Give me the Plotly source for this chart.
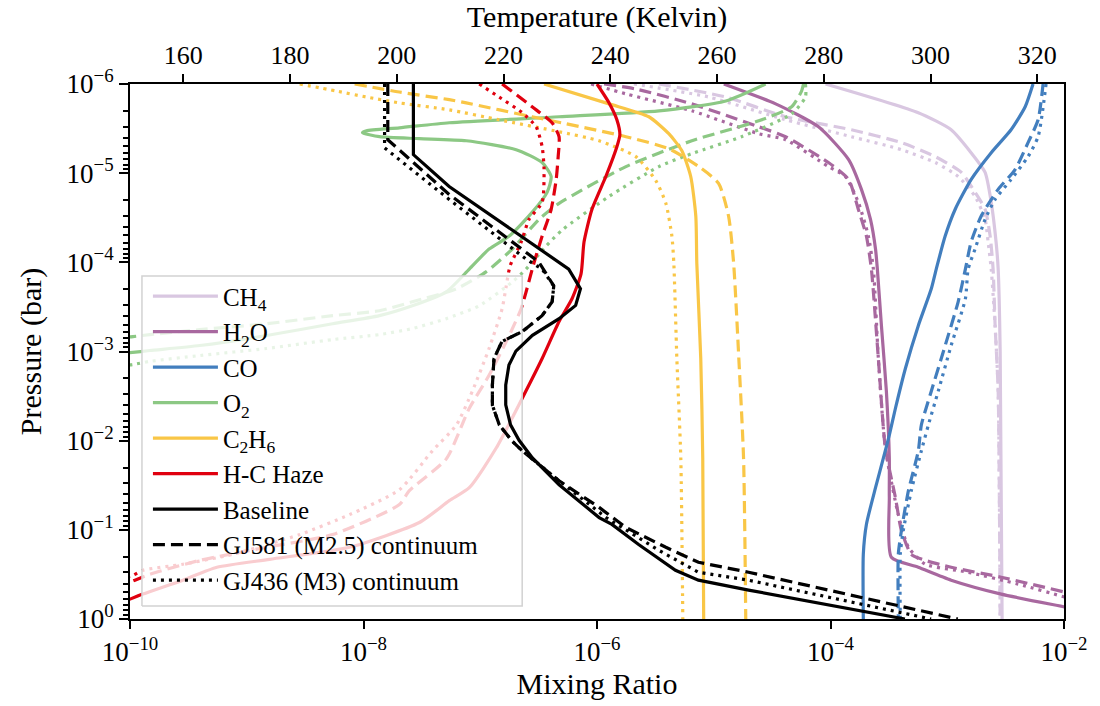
import plotly.graph_objects as go

# ---------------- data (pressure in bar, mixing ratio, temperature in K) ----------------
CH4_BASE_P = [1e-6, 2.1e-6, 3.26e-6, 5.89e-6, 9.8e-6, 2.12e-5, 5.93e-5, 1.19e-4, 1e-3, 1.0]
CH4_BASE_X = [9.06e-5, 5.65e-4, 1.08e-3, 1.6e-3, 2.11e-3, 2.38e-3, 2.62e-3, 2.73e-3, 2.84e-3, 2.95e-3]
CH4_GJ581_P = [1e-6, 1.4e-6, 2.33e-6, 3.26e-6, 4.55e-6, 6.52e-6, 9.8e-6, 1.64e-5, 2.54e-5, 5.08e-5, 1.19e-4, 5.13e-4, 2.79e-3, 1.0]
CH4_GJ581_X = [3.39e-6, 1.27e-5, 4.12e-5, 1.51e-4, 4.05e-4, 7.89e-4, 1.32e-3, 1.73e-3, 2.11e-3, 2.33e-3, 2.47e-3, 2.57e-3, 2.73e-3, 2.84e-3]
CH4_GJ436_P = [1e-6, 1.4e-6, 2.52e-6, 3.9e-6, 5.45e-6, 7.6e-6, 1.09e-5, 1.82e-5, 3.29e-5, 5.93e-5, 1.19e-4, 5.13e-4, 2.79e-3, 1.0]
CH4_GJ436_X = [2.07e-6, 9.06e-6, 4.12e-5, 1.51e-4, 4.05e-4, 7.89e-4, 1.24e-3, 1.73e-3, 2.11e-3, 2.24e-3, 2.38e-3, 2.57e-3, 2.73e-3, 2.84e-3]

H2O_BASE_P = [1e-6, 1.67e-6, 3.02e-6, 7.05e-6, 1.52e-5, 3.29e-5, 7.1e-5, 1.19e-4, 5.13e-4, 2.79e-3, 1.56e-2, 4.36e-2, 0.203, 0.263, 0.367, 0.526, 0.734, 0.857]
H2O_BASE_X = [1.22e-5, 3.39e-5, 7.89e-5, 1.43e-4, 1.84e-4, 2.2e-4, 2.43e-4, 2.52e-4, 2.73e-4, 3.01e-4, 3.19e-4, 3.19e-4, 3.32e-4, 5.65e-4, 1.08e-3, 2.9e-3, 1.02e-2, 1.84e-2]
H2O_GJ581_P = [1e-6, 1.14e-6, 1.67e-6, 3.02e-6, 3.9e-6, 7.6e-6, 1.18e-5, 2.54e-5, 5.08e-5, 1.19e-4, 1.2e-3, 1.21e-2, 4.36e-2, 0.102, 0.188, 0.22, 0.263, 0.34, 0.5, 0.598]
H2O_GJ581_X = [1.15e-6, 2.15e-6, 6.49e-6, 2.43e-5, 4.12e-5, 9.6e-5, 1.43e-4, 1.73e-4, 2.03e-4, 2.24e-4, 2.57e-4, 2.95e-4, 3.6e-4, 4.05e-4, 4.92e-4, 6.49e-4, 1.08e-3, 2.9e-3, 1.02e-2, 1.84e-2]
H2O_GJ436_P = [1e-6, 1.29e-6, 2.0e-6, 3.61e-6, 4.22e-6, 8.44e-6, 1.09e-5, 2.12e-5, 5.08e-5, 1.19e-4, 1.2e-3, 1.21e-2, 6.75e-2, 0.157, 0.243, 0.299, 0.406, 0.568, 0.70]
H2O_GJ436_X = [8.9e-7, 1.77e-6, 6.49e-6, 2.43e-5, 4.12e-5, 9.6e-5, 1.34e-4, 1.73e-4, 2.11e-4, 2.33e-4, 2.57e-4, 2.95e-4, 3.81e-4, 4.65e-4, 6.49e-4, 1.51e-3, 4.05e-3, 1.02e-2, 1.84e-2]

CO_BASE_P = [1e-6, 1.8e-6, 3.26e-6, 5.89e-6, 1.18e-5, 2.54e-5, 5.08e-5, 1.19e-4, 1.98e-4, 5.13e-4, 1.55e-3, 4.33e-3, 8.65e-3, 1.56e-2, 3.37e-2, 8.7e-2, 0.188, 1.0]
CO_BASE_X = [5.43e-3, 4.65e-3, 3.52e-3, 2.38e-3, 1.6e-3, 1.17e-3, 9.6e-4, 8.05e-4, 7.3e-4, 5.65e-4, 4.38e-4, 3.6e-4, 3.19e-4, 2.84e-4, 2.43e-4, 2.03e-4, 1.91e-4, 1.91e-4]
CO_GJ581_P = [1e-6, 2.52e-6, 4.55e-6, 9.1e-6, 1.52e-5, 3.04e-5, 5.93e-5, 1.19e-4, 2.77e-4, 8.57e-4, 2.79e-3, 6.68e-3, 1.3e-2, 3.64e-2, 0.102, 0.188, 1.0]
CO_GJ581_X = [6.62e-3, 6.0e-3, 4.92e-3, 3.81e-3, 2.73e-3, 1.95e-3, 1.6e-3, 1.43e-3, 1.24e-3, 9.6e-4, 7.3e-4, 6.0e-4, 5.65e-4, 4.65e-4, 4.05e-4, 3.81e-4, 3.81e-4]
CO_GJ436_P = [1e-6, 3.9e-6, 6.52e-6, 1.18e-5, 1.97e-5, 3.29e-5, 7.1e-5, 1.19e-4, 2.56e-4, 8.57e-4, 2.79e-3, 6.68e-3, 1.3e-2, 3.64e-2, 0.102, 0.188, 1.0]
CO_GJ436_X = [7.02e-3, 6.0e-3, 4.92e-3, 3.52e-3, 2.57e-3, 2.11e-3, 1.73e-3, 1.51e-3, 1.43e-3, 1.08e-3, 8.37e-4, 6.89e-4, 6.0e-4, 4.92e-4, 4.2e-4, 3.96e-4, 3.96e-4]

O2_BASE_P = [1e-6, 1.55e-6, 2.0e-6, 2.33e-6, 2.72e-6, 3.1e-6, 3.34e-6, 3.52e-6, 3.9e-6, 4.1e-6, 4.33e-6, 5.45e-6, 7.6e-6, 1.09e-5, 1.64e-5, 2.75e-5, 5.08e-5, 7.1e-5, 1.19e-4, 2.14e-4, 3.07e-4, 3.96e-4, 4.88e-4, 6.62e-4, 8.57e-4, 9.75e-4, 1.03e-3, 1.08e-3]
O2_BASE_X = [2.78e-5, 1.27e-5, 3.39e-6, 4.73e-7, 5.43e-8, 2.03e-8, 1.06e-8, 9.8e-9, 1.37e-8, 3.01e-8, 7.59e-8, 2.03e-7, 3.39e-7, 4.05e-7, 3.74e-7, 2.78e-7, 1.77e-7, 1.19e-7, 8.06e-8, 5.12e-8, 2.62e-8, 1.37e-8, 5.43e-9, 1.48e-9, 3.96e-10, 1.48e-10, 1e-10, 6.7e-11]
O2_GJ581_P = [1e-6, 1.2e-6, 1.8e-6, 2.59e-6, 4.33e-6, 8.44e-6, 2.18e-5, 3.29e-5, 7.1e-5, 1.28e-4, 1.98e-4, 2.77e-4, 3.49e-4, 3.96e-4, 4.88e-4, 5.69e-4, 6.46e-4, 6.81e-4, 7.17e-4]
O2_GJ581_X = [5.87e-5, 5.65e-5, 4.65e-5, 2.43e-5, 6.49e-6, 1.77e-6, 4.73e-7, 3.19e-7, 1.88e-7, 1.12e-7, 6.24e-8, 2.62e-8, 1.37e-8, 5.43e-9, 1.48e-9, 3.96e-10, 1.48e-10, 1.06e-10, 6.7e-11]
O2_GJ436_P = [1e-6, 1.4e-6, 2.16e-6, 3.9e-6, 6.04e-6, 8.44e-6, 1.82e-5, 4.35e-5, 6.58e-5, 1.19e-4, 1.66e-4, 3.07e-4, 4.28e-4, 5.53e-4, 6.46e-4, 7.35e-4, 9.25e-4, 1.11e-3, 1.29e-3, 1.4e-3, 1.51e-3]
O2_GJ436_X = [6.1e-5, 6.1e-5, 4.65e-5, 1.73e-5, 6.49e-6, 3.39e-6, 1.27e-6, 5.02e-7, 3.66e-7, 2.47e-7, 1.88e-7, 9.8e-8, 5.12e-8, 2.62e-8, 1.37e-8, 5.43e-9, 1.48e-9, 3.96e-10, 1.48e-10, 1.06e-10, 6.7e-11]

C2H6_BASE_P = [1e-6, 1.67e-6, 2.33e-6, 3.61e-6, 5.58e-6, 1.09e-5, 3.04e-5, 1.02e-4, 1.2e-3, 1.56e-2, 1.0]
C2H6_BASE_X = [3.52e-7, 1.27e-6, 2.78e-6, 4.12e-6, 5.32e-6, 6.35e-6, 7.02e-6, 7.16e-6, 7.74e-6, 8.05e-6, 8.2e-6]
C2H6_GJ581_P = [1e-6, 1.23e-6, 1.5e-6, 1.63e-6, 2.33e-6, 2.79e-6, 3.9e-6, 5.31e-6, 8.44e-6, 1.3e-5, 3.04e-5, 1.02e-4, 1.2e-3, 1.56e-2, 1.0]
C2H6_GJ581_X = [8.4e-9, 2.03e-8, 5.43e-8, 7.59e-8, 2.78e-7, 5.43e-7, 1.77e-6, 4.12e-6, 7.45e-6, 1.1e-5, 1.34e-5, 1.48e-5, 1.64e-5, 1.8e-5, 1.88e-5]
C2H6_GJ436_P = [1e-6, 1.2e-6, 1.4e-6, 1.63e-6, 1.95e-6, 2.52e-6, 3.43e-6, 4.33e-6, 6.52e-6, 1.21e-5, 2.18e-5, 5.08e-5, 1.02e-4, 1.2e-3, 1.56e-2, 1.0]
C2H6_GJ436_X = [2.84e-9, 5.87e-9, 1.06e-8, 2.03e-8, 5.43e-8, 1.45e-7, 4.73e-7, 1.04e-6, 2.15e-6, 3.19e-6, 3.89e-6, 4.38e-6, 4.55e-6, 4.83e-6, 5.22e-6, 5.43e-6]

HAZE_BASE_P = [1e-6, 1.63e-6, 2.52e-6, 3.71e-6, 5.05e-6, 1.09e-5, 2.54e-5, 5.93e-5, 1.35e-4, 2.56e-4, 4.62e-4, 1.2e-3, 3.34e-3, 1.21e-2, 3.37e-2, 4.71e-2, 8.28e-2, 0.157, 0.214, 0.263, 0.367, 0.526, 0.663]
HAZE_BASE_X = [1.0e-6, 1.27e-6, 1.48e-6, 1.57e-6, 1.48e-6, 1.19e-6, 9.06e-7, 7.74e-7, 7.3e-7, 6.11e-7, 4.73e-7, 3.39e-7, 2.29e-7, 1.37e-7, 8.06e-8, 5.43e-8, 3.01e-8, 7.59e-9, 1.57e-9, 5.55e-10, 2.84e-10, 1.29e-10, 8.2e-11]
HAZE_GJ581_P = [1e-6, 1.8e-6, 2.72e-6, 3.9e-6, 6.52e-6, 1.18e-5, 2.54e-5, 5.08e-5, 9.9e-5, 2.14e-4, 3.31e-4, 6.62e-4, 1.85e-3, 4.33e-3, 1.6e-2, 3.64e-2, 5.21e-2, 0.113, 0.157, 0.22, 0.315, 0.386, 0.44]
HAZE_GJ581_X = [1.54e-7, 2.78e-7, 4.12e-7, 4.73e-7, 4.65e-7, 4.47e-7, 4.05e-7, 3.39e-7, 2.9e-7, 2.47e-7, 2.24e-7, 1.77e-7, 1.19e-7, 8.06e-8, 5.12e-8, 2.47e-8, 2.03e-8, 5.43e-9, 1.48e-9, 3.96e-10, 1.48e-10, 1e-10, 7.4e-11]
HAZE_GJ436_P = [1e-6, 1.4e-6, 2.1e-6, 3.02e-6, 5.05e-6, 9.1e-6, 2.12e-5, 3.29e-5, 5.93e-5, 1.1e-4, 1.84e-4, 3.31e-4, 9.25e-4, 2.79e-3, 6.68e-3, 1.3e-2, 3.55e-2, 6.75e-2, 0.113, 0.188, 0.243, 0.284, 0.323, 0.367]
HAZE_GJ436_X = [9.8e-8, 1.45e-7, 2.29e-7, 3.01e-7, 3.39e-7, 3.52e-7, 3.39e-7, 2.62e-7, 2.24e-7, 1.8e-7, 1.67e-7, 1.54e-7, 1.19e-7, 8.55e-8, 6.24e-8, 3.89e-8, 2.03e-8, 7.59e-9, 2.84e-9, 7.59e-10, 2.84e-10, 1.29e-10, 1.06e-10, 7.4e-11]

T_BASE_P = [1e-6, 6.2e-6, 1.41e-5, 1.19e-4, 1.98e-4, 3.04e-4, 4.28e-4, 6.58e-4, 9.9e-4, 1.42e-3, 2.38e-3, 3.97e-3, 6.64e-3, 9.9e-3, 1.56e-2, 3.12e-2, 7.28e-2, 8.7e-2, 0.146, 0.284, 0.367, 0.474, 1.0]
T_BASE = [203.1, 203.1, 209.8, 232.2, 234.4, 233.5, 230.4, 225.4, 222.3, 221.0, 220.4, 220.4, 221.3, 222.9, 225.4, 230.4, 237.9, 240.3, 245.3, 252.2, 256.5, 265.9, 295.2]
T_GJ581_P = [1e-6, 4.22e-6, 1.73e-5, 9.9e-5, 1.84e-4, 2.77e-4, 3.96e-4, 5.98e-4, 7.72e-4, 1.2e-3, 2.39e-3, 4.0e-3, 6.68e-3, 1.01e-2, 1.3e-2, 2.82e-2, 5.6e-2, 9.4e-2, 0.157, 0.231, 0.299, 1.0]
T_GJ581 = [198.3, 198.3, 209.8, 226.6, 229.4, 229.1, 227.2, 223.5, 219.7, 218.2, 217.9, 217.9, 219.2, 221.6, 223.5, 230.4, 237.9, 242.9, 250.4, 256.5, 265.9, 305.1]
T_GJ436_P = [1e-6, 5.2e-6, 1.97e-5, 9.2e-5, 1.19e-4, 1.84e-4, 2.77e-4, 3.96e-4, 5.98e-4, 7.72e-4, 1.2e-3, 2.39e-3, 4.0e-3, 6.68e-3, 1.01e-2, 1.3e-2, 2.82e-2, 7.28e-2, 0.17, 0.299, 0.367, 1.0]
T_GJ436 = [197.7, 197.7, 209.8, 224.2, 227.2, 229.4, 229.1, 227.2, 223.5, 219.7, 218.2, 217.9, 217.9, 219.2, 221.6, 223.5, 230.4, 239.2, 249.1, 256.5, 265.9, 300.1]

SPECIES_NAMES = ["CH<sub>4</sub>", "H<sub>2</sub>O", "CO", "O<sub>2</sub>", "C<sub>2</sub>H<sub>6</sub>", "H-C Haze"]
SPECIES_COLORS = ["#d9c7e1", "#a8689f", "#427ebe", "#8cc884", "#f9c646", "#e0000f"]
MODEL_NAMES = ["Baseline", "GJ581 (M2.5) continuum", "GJ436 (M3) continuum"]

X_TICKS = [1e-10, 1e-8, 1e-6, 1e-4, 1e-2]
X_TICKTEXT = ["10<sup>\u221210</sup>", "10<sup>\u22128</sup>", "10<sup>\u22126</sup>", "10<sup>\u22124</sup>", "10<sup>\u22122</sup>"]
Y_TICKS = [1e-6, 1e-5, 1e-4, 1e-3, 1e-2, 1e-1, 1.0]
Y_TICKTEXT = ["10<sup>\u22126</sup>", "10<sup>\u22125</sup>", "10<sup>\u22124</sup>", "10<sup>\u22123</sup>", "10<sup>\u22122</sup>", "10<sup>\u22121</sup>", "10<sup>0</sup>"]
T_TICKS = [160, 180, 200, 220, 240, 260, 280, 300, 320]

# ---------------- styling ----------------
FONT = "Liberation Serif"
DASHES = ["solid", "12px,6px", "3px,5px"]
LW = 3.2
XLOG = (-10, -2)
YLOG = (0, -6)      # bottom, top (log10 bar)
TRANGE = (150, 325)

species_curves = [
    [(CH4_BASE_P, CH4_BASE_X), (CH4_GJ581_P, CH4_GJ581_X), (CH4_GJ436_P, CH4_GJ436_X)],
    [(H2O_BASE_P, H2O_BASE_X), (H2O_GJ581_P, H2O_GJ581_X), (H2O_GJ436_P, H2O_GJ436_X)],
    [(CO_BASE_P, CO_BASE_X), (CO_GJ581_P, CO_GJ581_X), (CO_GJ436_P, CO_GJ436_X)],
    [(O2_BASE_P, O2_BASE_X), (O2_GJ581_P, O2_GJ581_X), (O2_GJ436_P, O2_GJ436_X)],
    [(C2H6_BASE_P, C2H6_BASE_X), (C2H6_GJ581_P, C2H6_GJ581_X), (C2H6_GJ436_P, C2H6_GJ436_X)],
    [(HAZE_BASE_P, HAZE_BASE_X), (HAZE_GJ581_P, HAZE_GJ581_X), (HAZE_GJ436_P, HAZE_GJ436_X)],
]
temp_curves = [(T_BASE_P, T_BASE), (T_GJ581_P, T_GJ581), (T_GJ436_P, T_GJ436)]

fig = go.Figure()
for si, (name, color, curves) in enumerate(zip(SPECIES_NAMES, SPECIES_COLORS, species_curves)):
    for mi, (p, x) in enumerate(curves):
        fig.add_trace(go.Scatter(
            x=x, y=p, mode="lines", name=name,
            line=dict(color=color, width=LW, dash=DASHES[mi], shape="spline", smoothing=0.6),
            showlegend=(mi == 0), legendgroup=f"g{si}", legendrank=si + 1,
            hoverinfo="skip", xaxis="x", yaxis="y"))

# semi-transparent legend background (drawn above coloured lines, below temperature lines)
BOX = (0.0128, 0.4199, 0.0242, 0.6413)   # axes-fraction x0, x1, y0, y1
def fx(f):
    return 10 ** (XLOG[0] + f * (XLOG[1] - XLOG[0]))
def fy(f):
    return 10 ** (YLOG[0] + f * (YLOG[1] - YLOG[0]))
bx = [fx(BOX[0]), fx(BOX[1]), fx(BOX[1]), fx(BOX[0]), fx(BOX[0])]
by = [fy(BOX[2]), fy(BOX[2]), fy(BOX[3]), fy(BOX[3]), fy(BOX[2])]
fig.add_trace(go.Scatter(x=bx, y=by, mode="lines", fill="toself",
                         fillcolor="rgba(255,255,255,0.8)",
                         line=dict(color="rgba(210,210,210,1)", width=1.5),
                         showlegend=False, hoverinfo="skip", xaxis="x", yaxis="y"))

for mi, (p, t) in enumerate(temp_curves):
    fig.add_trace(go.Scatter(
        x=t, y=p, mode="lines", name=MODEL_NAMES[mi],
        line=dict(color="black", width=LW, dash=DASHES[mi]),
        showlegend=True, legendgroup=f"m{mi}", legendrank=10 + mi,
        hoverinfo="skip", xaxis="x2", yaxis="y"))

axis_common = dict(showgrid=False, zeroline=False, showline=True, linecolor="black",
                   linewidth=2, ticks="outside", tickwidth=2, tickcolor="black")
log_tickfont = dict(family=FONT, size=27, color="black")
lin_tickfont = dict(family=FONT, size=26, color="black")

fig.update_layout(
    width=1100, height=706,
    margin=dict(l=130, r=34, t=84, b=84),
    paper_bgcolor="white", plot_bgcolor="white",
    font=dict(family=FONT, color="black"),
    xaxis=dict(type="log", range=list(XLOG), tickmode="array", tickvals=X_TICKS, ticklen=8,
               ticktext=X_TICKTEXT, tickfont=log_tickfont,
               title=dict(text="Mixing Ratio", font=dict(family=FONT, size=30), standoff=6),
               **axis_common),
    xaxis2=dict(overlaying="x", side="top", anchor="y", range=list(TRANGE), tickmode="array", ticklen=8,
                tickvals=T_TICKS, tickfont=lin_tickfont,
                title=dict(text="Temperature (Kelvin)", font=dict(family=FONT, size=30), standoff=6),
                **axis_common),
    yaxis=dict(type="log", range=list(YLOG), tickmode="array", tickvals=Y_TICKS, ticktext=Y_TICKTEXT,
               mirror=True, ticklen=9, tickfont=log_tickfont,
               minor=dict(ticks="outside", ticklen=5, tickwidth=1.5, tickcolor="black", tickmode="array",
                          tickvals=[m * 10.0 ** e for e in range(-6, 0) for m in range(2, 10)]),
               title=dict(text="Pressure (bar)", font=dict(family=FONT, size=30), standoff=16),
               **axis_common),
    legend=dict(x=0.0192, y=0.646, xanchor="left", yanchor="top",
                bgcolor="rgba(0,0,0,0)", borderwidth=0,
                font=dict(family=FONT, size=25, color="black"),
                traceorder="grouped", tracegroupgap=0, itemwidth=65),
    showlegend=True,
)

fig.write_html("out.html")
